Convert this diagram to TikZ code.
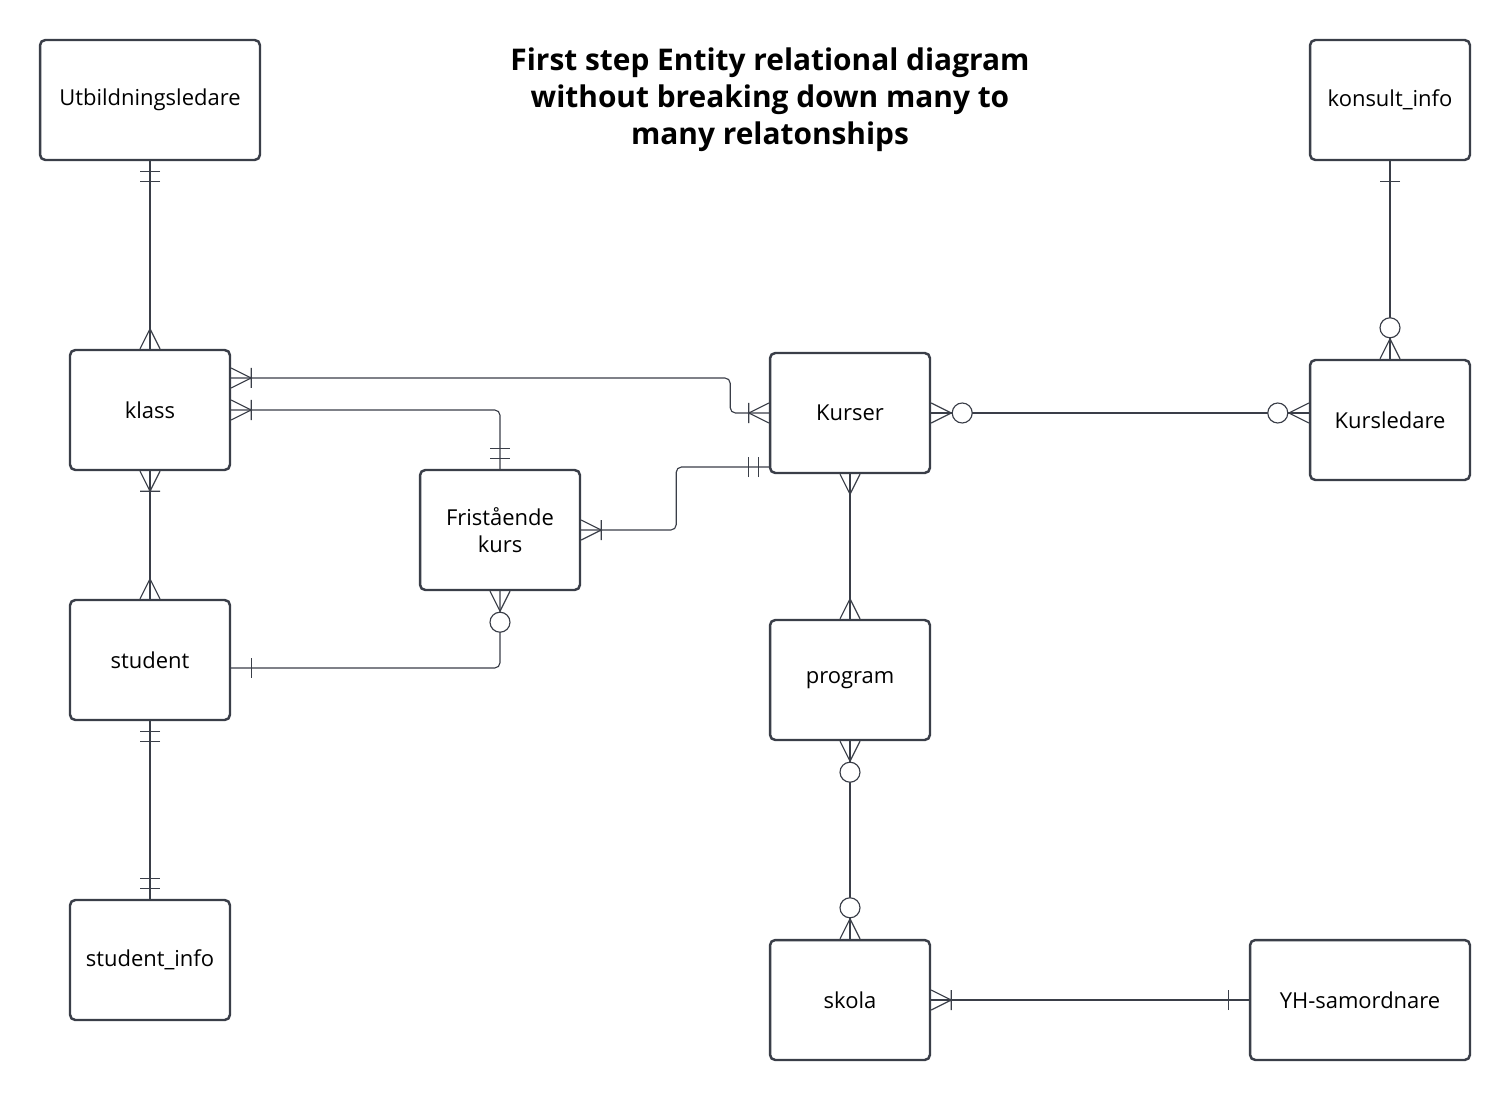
\documentclass[tikz,border=0pt]{standalone}
\usepackage{fontspec}
\setmainfont{Open Sans}
\usetikzlibrary{calc}
\definecolor{edge}{RGB}{58,62,72}
\tikzset{
  entity/.style={draw=edge, line width=1.4pt, rounded corners=3pt, minimum width=3.2cm, minimum height=2.4cm, align=center, font=\fontsize{12.5}{15.3}\selectfont},
  rel/.style={draw=edge, line width=0.65pt},
  crow/.pic={\draw[rel] (0,10) -- (20,0) -- (0,-10);},
  bar/.pic={\draw[rel] (20,10) -- (20,-10);},
  barbar/.pic={\draw[rel] (10,10) -- (10,-10) (20,10) -- (20,-10);},
  crowbar/.pic={\draw[rel] (0,10) -- (20,0) -- (0,-10) (20,10) -- (20,-10);},
  crowring/.pic={\draw[rel] (0,10) -- (20,0) -- (0,-10); \draw[rel, fill=white] (31,0) circle[radius=0.2cm];}
}

\begin{document}
\begin{tikzpicture}[x=0.02cm, y=0.02cm]
\useasboundingbox (0,0) rectangle (1510,1100);

\node[align=center, font=\bfseries\fontsize{17}{21}\selectfont] (title) at (770,1000) {First step Entity relational diagram\\without breaking down many to\\many relatonships};

\node[entity, minimum width=4.4cm] (utb) at (150,1000) {Utbildningsledare};
\node[entity] (konsult) at (1390,1000) {konsult\_info};
\node[entity] (klass) at (150,690) {klass};
\node[entity] (kurser) at (850,687) {Kurser};
\node[entity] (kursledare) at (1390,680) {Kursledare};
\node[entity] (fk) at (500,570) {Fristående\\kurs};
\node[entity] (student) at (150,440) {student};
\node[entity] (program) at (850,420) {program};
\node[entity] (sinfo) at (150,140) {student\_info};
\node[entity] (skola) at (850,100) {skola};
\node[entity, minimum width=4.4cm] (yh) at (1360,100) {YH-samordnare};

\coordinate (klassup) at ($(klass.east)+(0,32)$);
\coordinate (kurserlo) at ($(kurser.west)+(0,-54)$);
\coordinate (studr) at ($(student.east)+(0,-8)$);
\coordinate (kledl) at (kurser.east -| kursledare.west);

\draw[rel] (utb.south) -- (klass.north);
\draw[rel, rounded corners=3pt] (klassup) -- ++(499,0) |- (kurser.west);
\draw[rel, rounded corners=3pt] (klass.east) -| (fk.north);
\draw[rel, rounded corners=3pt] (fk.east) -- ++(95,0) |- (kurserlo);
\draw[rel, rounded corners=3pt] (fk.south) |- (studr);
\draw[rel] (klass.south) -- (student.north);
\draw[rel] (student.south) -- (sinfo.north);
\draw[rel] (konsult.south) -- (kursledare.north);
\draw[rel] (kurser.east) -- (kledl);
\draw[rel] (kurser.south) -- (program.north);
\draw[rel] (program.south) -- (skola.north);
\draw[rel] (skola.east) -- (yh.west);

\pic[rotate=-90] at (utb.south) {barbar};
\pic[rotate=90] at (klass.north) {crow};
\pic at (klassup) {crowbar};
\pic[rotate=180] at (kurser.west) {crowbar};
\pic at (klass.east) {crowbar};
\pic[rotate=90] at (fk.north) {barbar};
\pic at (fk.east) {crowbar};
\pic[rotate=180] at (kurserlo) {barbar};
\pic[rotate=-90] at (fk.south) {crowring};
\pic at (studr) {bar};
\pic[rotate=-90] at (klass.south) {crowbar};
\pic[rotate=90] at (student.north) {crow};
\pic[rotate=-90] at (student.south) {barbar};
\pic[rotate=90] at (sinfo.north) {barbar};
\pic[rotate=-90] at (konsult.south) {bar};
\pic[rotate=90] at (kursledare.north) {crowring};
\pic at (kurser.east) {crowring};
\pic[rotate=180] at (kledl) {crowring};
\pic[rotate=-90] at (kurser.south) {crow};
\pic[rotate=90] at (program.north) {crow};
\pic[rotate=-90] at (program.south) {crowring};
\pic[rotate=90] at (skola.north) {crowring};
\pic at (skola.east) {crowbar};
\pic[rotate=180] at (yh.west) {bar};
\end{tikzpicture}
\end{document}
